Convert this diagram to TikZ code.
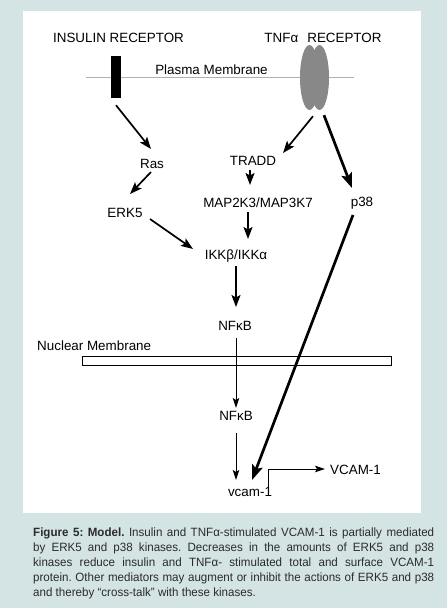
\documentclass[tikz,border=0pt]{standalone}
\usepackage{fontspec}
\setmainfont{Liberation Sans}
\newfontfamily\capfont{Liberation Sans}[FakeStretch=0.965]
\usetikzlibrary{arrows.meta,calc,shapes.geometric}
\definecolor{bgc}{HTML}{D4E3E3}
\definecolor{capc}{HTML}{2B2B2B}
\definecolor{recgray}{HTML}{888888}
\definecolor{memgray}{HTML}{B0B0B0}
\begin{document}
\begin{tikzpicture}[x=1pt,y=-1pt,
  lab/.style={inner sep=0pt, font=\fontsize{13.4}{16}\selectfont, anchor=base},
  arr/.style={line width=1.7pt, -{Stealth[length=12pt,width=9pt,inset=2.5pt]}},
  thickarr/.style={line width=2.7pt, -{Stealth[length=15pt,width=11pt,inset=3pt]}},
  thinarr/.style={line width=1pt, -{Stealth[length=10pt,width=6.5pt,inset=2pt]}},
  membox/.style={draw=black, line width=1pt, fill=white, inner sep=0pt, minimum width=309pt, minimum height=9pt},
  recep/.style={ellipse, fill=recgray, inner sep=0pt, minimum width=19pt, minimum height=65pt},
]
\useasboundingbox (0,0) rectangle (447,608);
\fill[bgc] (0,0) rectangle (447,608);
\fill[white] (23,11) rectangle (421,513);

% plasma membrane
\draw[memgray, line width=0.8pt] (86,77) -- (354,77);
\node[lab] (pm) at (211.5,74) {Plasma Membrane};

% receptors
\node[fill=black, inner sep=0pt, minimum width=10pt, minimum height=42pt] (ir) at (116,77) {};
\node[recep] (tnfL) at (309.5,77.5) {};
\node[recep] (tnfR) at (319.5,77.5) {};

\node[lab] (irlab) at (118.5,42) {INSULIN RECEPTOR};
\node[lab] (tnflab) at (323,42) {TNFα\hspace{0.4em} RECEPTOR};

% nuclear membrane
\node[membox] (nm) at (236.5,360.5) {};
\node[lab, anchor=base west] (nmlab) at (37,350) {Nuclear Membrane};

% molecules
\node[lab] (ras) at (152,168) {Ras};
\node[lab] (tradd) at (253,165) {TRADD};
\node[lab] (map) at (258,207) {MAP2K3/MAP3K7};
\node[lab] (p38) at (362,206) {p38};
\node[lab] (erk) at (125,217) {ERK5};
\node[lab] (ikk) at (236,259) {IKKβ/IKKα};
\node[lab] (nfkb1) at (235,330) {NFκB};
\node[lab] (nfkb2) at (236,420) {NFκB};
\node[lab] (vcam) at (250,496) {vcam-1};
\node[lab, anchor=base west] (vcamp) at (330,474) {VCAM-1};

% arrows
\draw[arr] ($(ir.south)+(0,7)$) -- ($(ras.base)+(-1,-19)$);
\draw[arr] ($(tnfR.south)+(-6.5,6)$) -- ($(tradd.base)+(30,-12)$);
\draw[thickarr] ($(tnfR.south)+(4.5,5)$) -- ($(p38.base)+(-10,-18)$);
\draw[arr] ($(ras.base)+(-1,4)$) -- ($(erk.base)+(5,-23)$);
\draw[arr] ($(tradd.base)+(-3,5)$) -- ($(map.base)+(-8,-22)$);
\draw[arr] ($(erk.base)+(25,2)$) -- ($(ikk.base)+(-43,-10)$);
\draw[arr] ($(map.base)+(-10,5)$) -- ($(ikk.base)+(12,-20)$);
\draw[arr] ($(ikk.base)+(0,7)$) -- ($(nfkb1.base)+(1,-23)$);
\draw[thinarr] ($(nfkb1.base)+(1,8)$) -- ($(nfkb2.base)+(0,-12)$);
\draw[thinarr] ($(nfkb2.base)+(0,13)$) -- ($(vcam.base)+(-14,-16)$);
\draw[thickarr] ($(p38.base)+(-9,9)$) -- ($(vcam.base)+(2,-16)$);
\draw[thinarr] ($(vcam.base)+(18,-5)$) |- ($(vcamp.base west)+(-5,-5)$);

% caption
\node[anchor=north west, inner sep=0pt, text width=401pt, align=justify,
      font=\capfont\fontsize{12}{15.2}\selectfont\frenchspacing, text=capc] (cap) at (33,527.2)
  {\textbf{Figure 5: Model.} Insulin and TNFα-stimulated VCAM-1 is partially mediated\linebreak
   by ERK5 and p38 kinases. Decreases in the amounts of ERK5 and p38\linebreak
   kinases reduce insulin and TNFα- stimulated total and surface VCAM-1\linebreak
   protein. Other mediators may augment or inhibit the actions of ERK5 and p38\linebreak
   and thereby “cross-talk” with these kinases.};
\end{tikzpicture}
\end{document}
